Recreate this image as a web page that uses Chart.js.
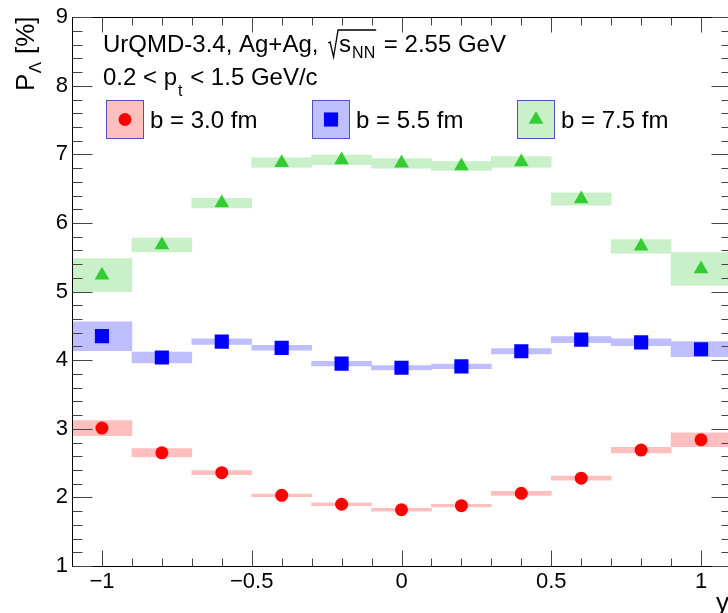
<!DOCTYPE html>
<html>
<head>
<meta charset="utf-8">
<script src="https://cdn.jsdelivr.net/npm/chart.js@4.4.0/dist/chart.umd.min.js"></script>
<style>
  html, body { margin: 0; padding: 0; background: #fff; overflow: hidden; }
  #wrap { width: 760px; height: 613px; }
</style>
</head>
<body>
<div id="wrap"><canvas id="myChart" width="760" height="613"></canvas></div>
<script>
// rapidity bins (centres), bin width 0.2
const rapidity = [-1, -0.8, -0.6, -0.4, -0.2, 0, 0.2, 0.4, 0.6, 0.8, 1];

// P_Lambda [%] and systematic half-heights of the boxes
const polB30 = [3.01, 2.65, 2.36, 2.03, 1.90, 1.82, 1.88, 2.06, 2.28, 2.69, 2.84];
const sysB30 = [0.11, 0.06, 0.03, 0.02, 0.02, 0.02, 0.02, 0.03, 0.03, 0.04, 0.10];
const polB55 = [4.35, 4.04, 4.27, 4.18, 3.95, 3.89, 3.91, 4.13, 4.30, 4.26, 4.16];
const sysB55 = [0.21, 0.08, 0.04, 0.035, 0.035, 0.03, 0.035, 0.04, 0.045, 0.05, 0.11];
const polB75 = [5.24, 5.68, 6.29, 6.88, 6.92, 6.87, 6.83, 6.89, 6.35, 5.66, 5.33];
const sysB75 = [0.24, 0.10, 0.07, 0.07, 0.07, 0.07, 0.065, 0.08, 0.09, 0.10, 0.24];

const seriesLabels = ["b = 3.0 fm", "b = 5.5 fm", "b = 7.5 fm"];
const xTickVals = [-1, -0.5, 0, 0.5, 1];
const yTickVals = [1, 2, 3, 4, 5, 6, 7, 8, 9];

const FONT = "'Liberation Sans', Arial, sans-serif";
const markColor = ["#ff0000", "#0000ff", "#33cc33"];
const boxColor = ["#ffbfbf", "#bfbfff", "#c9f0c9"];
const markStyle = ["circle", "rect", "triangle"];
const markRadius = [6.5, 10, 8.5];

function boxData(vals, errs) {
  return rapidity.map((x, i) => ({ x: x, y: [vals[i] - errs[i], vals[i] + errs[i]] }));
}

function pointData(vals) {
  return rapidity.map((x, i) => ({ x: x, y: vals[i] }));
}

function fmtTick(v) {
  if (v < 0) return "\u2212" + Math.abs(v);
  return String(v);
}

// ROOT-like frame with inside ticks
const framePlugin = {
  id: "frame",
  afterDatasetsDraw(chart) {
    const ctx = chart.ctx;
    const a = chart.chartArea;
    const xs = chart.scales.x, ys = chart.scales.y;
    const L = Math.round(a.left) + 0.5, R = Math.round(a.right) + 0.5;
    const T = Math.round(a.top) + 0.5, B = Math.round(a.bottom) + 0.5;
    ctx.save();
    ctx.strokeStyle = "#000";
    ctx.lineWidth = 1;
    ctx.strokeRect(L, T, R - L, B - T);
    ctx.strokeStyle = "#444";
    ctx.beginPath();
    for (let k = 0; k <= 40; k++) {
      const v = 1 + k * 0.2;
      const py = Math.round(ys.getPixelForValue(v)) + 0.5;
      const len = (k % 5 === 0) ? 20 : 10;
      ctx.moveTo(L, py); ctx.lineTo(L + len, py);
      ctx.moveTo(R, py); ctx.lineTo(R - len, py);
    }
    for (let k = -10; k <= 10; k++) {
      const v = k * 0.1;
      const px = Math.round(xs.getPixelForValue(v)) + 0.5;
      const major = (k % 5 === 0);
      ctx.moveTo(px, B); ctx.lineTo(px, B - (major ? 16 : 8));
      ctx.moveTo(px, T); ctx.lineTo(px, T + (major ? 15 : 8));
    }
    ctx.stroke();
    ctx.restore();
  },
  afterDraw(chart) {
    const ctx = chart.ctx;
    ctx.save();
    ctx.fillStyle = "#000";
    ctx.strokeStyle = "#000";
    ctx.textBaseline = "alphabetic";
    ctx.textAlign = "left";

    // y axis title  P_Lambda [%]
    ctx.save();
    ctx.translate(34, 91);
    ctx.rotate(-Math.PI / 2);
    ctx.font = "26px " + FONT;
    ctx.fillText("P", 0, 0);
    let w = ctx.measureText("P").width;
    ctx.font = "17px " + FONT;
    ctx.fillText("\u039B", w + 0.5, 7);
    w += ctx.measureText("\u039B").width + 1;
    ctx.font = "26px " + FONT;
    ctx.fillText(" [%]", w, 0);
    ctx.restore();

    // x axis title
    ctx.font = "26px " + FONT;
    ctx.fillText("y", 716, 611);

    // line 1
    let x = 103, y = 52;
    ctx.font = "24px " + FONT;
    const t1 = "UrQMD-3.4, Ag+Ag, ";
    ctx.fillText(t1, x, y);
    x += ctx.measureText(t1).width + 3;
    ctx.font = "24px " + FONT;
    const sw = ctx.measureText("s").width;
    ctx.font = "16px " + FONT;
    const nw = ctx.measureText("NN").width;
    const xEnd = x + 11 + sw + 1 + nw + 1;
    ctx.lineWidth = 1.3;
    ctx.beginPath();
    ctx.moveTo(x, y - 9);
    ctx.lineTo(x + 2, y - 10);
    ctx.lineTo(x + 5.5, y + 5);
    ctx.lineTo(x + 10, y - 22);
    ctx.lineTo(xEnd, y - 22);
    ctx.stroke();
    ctx.font = "24px " + FONT;
    ctx.fillText("s", x + 11, y);
    ctx.font = "16px " + FONT;
    ctx.fillText("NN", x + 11 + sw + 1, y + 6);
    ctx.font = "24px " + FONT;
    ctx.fillText(" = 2.55 GeV", xEnd + 1, y);

    // line 2
    x = 103; y = 85;
    const t2 = "0.2 < p";
    ctx.fillText(t2, x, y);
    x += ctx.measureText(t2).width;
    ctx.font = "16px " + FONT;
    ctx.fillText("t", x + 1, y + 11);
    x += ctx.measureText("t").width + 2;
    ctx.font = "24px " + FONT;
    ctx.fillText(" < 1.5 GeV/c", x, y);

    // legend
    const legX = [106, 312, 517];
    for (let i = 0; i < 3; i++) {
      const bx = legX[i], by = 100, bw = 37, bh = 38;
      ctx.fillStyle = boxColor[i];
      ctx.fillRect(bx, by, bw, bh);
      ctx.strokeStyle = "#5050c0";
      ctx.lineWidth = 1;
      ctx.strokeRect(bx + 0.5, by + 0.5, bw, bh);
      Chart.helpers.drawPoint(ctx, {
        pointStyle: markStyle[i], radius: markRadius[i], rotation: 0, borderWidth: 0
      }, bx + bw / 2 + 0.5, by + bh / 2 + 0.5);
      ctx.fillStyle = markColor[i];
      ctx.fill();
      ctx.fillStyle = "#000";
      ctx.font = "24px " + FONT;
      ctx.fillText(seriesLabels[i], bx + 44, 128);
    }
    ctx.restore();
  }
};

function drawPolarisationChart() {
  const vals = [polB30, polB55, polB75];
  const errs = [sysB30, sysB55, sysB75];
  const datasets = [];
  for (let i = 0; i < 3; i++) {
    datasets.push({
      type: "bar",
      label: seriesLabels[i] + " sys",
      data: boxData(vals[i], errs[i]),
      backgroundColor: boxColor[i],
      borderWidth: 0,
      barPercentage: 1,
      categoryPercentage: 1,
      grouped: false,
      order: 2
    });
  }
  for (let i = 0; i < 3; i++) {
    datasets.push({
      type: "scatter",
      label: seriesLabels[i],
      data: pointData(vals[i]),
      pointStyle: markStyle[i],
      pointRadius: markRadius[i],
      pointBackgroundColor: markColor[i],
      pointBorderColor: markColor[i],
      pointBorderWidth: 0,
      showLine: false,
      order: 1
    });
  }

  const config = {
    type: "scatter",
    data: { datasets: datasets },
    options: {
      responsive: false,
      animation: false,
      layout: { padding: { top: 12, left: 0, right: 29, bottom: 0 } },
      plugins: {
        legend: { display: false },
        tooltip: { enabled: false }
      },
      scales: {
        x: {
          type: "linear",
          min: -1.1,
          max: 1.1,
          offset: false,
          grid: { display: false, drawTicks: false },
          border: { display: false },
          afterBuildTicks: (s) => { s.ticks = xTickVals.map(v => ({ value: v })); },
          afterFit: (s) => { s.height = 47; },
          ticks: {
            autoSkip: false,
            maxRotation: 0,
            padding: 3,
            color: "#000",
            font: { family: FONT, size: 22 },
            callback: (v) => fmtTick(v)
          }
        },
        y: {
          type: "linear",
          min: 1,
          max: 9,
          grid: { display: false, drawTicks: false },
          border: { display: false },
          afterBuildTicks: (s) => { s.ticks = yTickVals.map(v => ({ value: v })); },
          afterFit: (s) => { s.width = 72; },
          ticks: {
            autoSkip: false,
            padding: 4,
            color: "#000",
            font: { family: FONT, size: 22 },
            callback: (v) => String(v)
          }
        }
      }
    },
    plugins: [framePlugin]
  };
  return config;
}

window.addEventListener("load", () => {
  new Chart("myChart", drawPolarisationChart());
});
</script>
</body>
</html>
